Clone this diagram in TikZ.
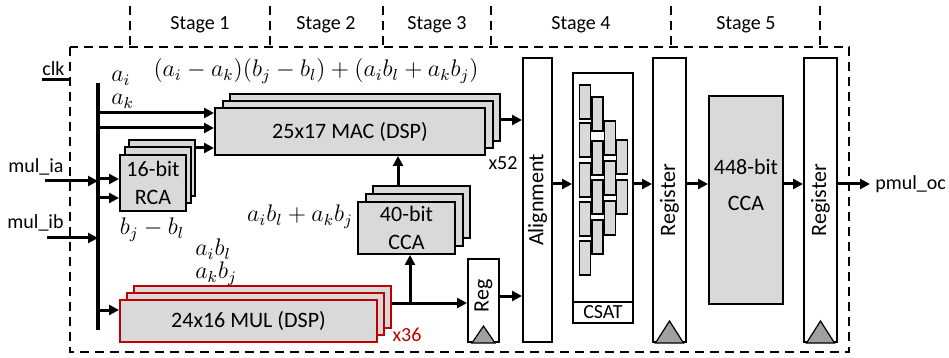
\documentclass[tikz,border=0pt]{standalone}
\usepackage{fontspec}
\setmainfont{Carlito}
\usetikzlibrary{arrows.meta}
\definecolor{boxgray}{RGB}{217,217,217}
\definecolor{trigray}{RGB}{160,160,160}
\definecolor{mulred}{RGB}{192,0,0}
\tikzset{
  blk/.style={draw,line width=1pt,fill=boxgray,inner sep=0pt,align=center,font=\fontsize{11}{13}\selectfont},
  regbox/.style={draw,line width=1pt,fill=white,inner sep=0pt},
  boxtxt/.style={inner sep=0pt,align=center,font=\fontsize{11}{13}\selectfont},
  wire/.style={line width=1.5pt,-{Triangle[length=5pt,width=5pt]}},
  bus/.style={line width=2pt},
  frame/.style={line width=1pt,dash pattern=on 4.5pt off 3pt},
  lbl/.style={inner sep=0pt,font=\fontsize{10}{12}\selectfont},
  mth/.style={inner sep=0pt,align=left,font=\fontsize{11.5}{11.5}\selectfont},
  cell/.style={draw,line width=0.8pt,fill=boxgray},
  clock/.style={draw,line width=0.6pt,fill=trigray}
}
\begin{document}
\begin{tikzpicture}[x=0.5pt,y=-0.5pt]
  \useasboundingbox (0,0) rectangle (949,358);
  % pipeline frame and stages
  \draw[frame] (70,47) rectangle (849,352);
  \foreach \x in {130,270,383,491,671,820}
    \draw[frame] (\x,6) -- (\x,47);
  \foreach \n/\x in {1/200,2/326,3/437,4/581,5/746}
    \node[lbl] (st\n) at (\x,25) {Stage \n};

  % stacked blocks
  \foreach \s in {2,1} {
    \node[blk,minimum width=135pt,minimum height=23.5pt] (mac\s) at (350+7.5*\s,131.5-7*\s) {};
    \node[blk,minimum width=33pt,minimum height=28pt] (rca\s) at (153+4.5*\s,183-7.5*\s) {};
    \node[blk,draw=mulred,minimum width=128.5pt,minimum height=21pt] (mul\s) at (248.5+7*\s,321-7*\s) {};
    \node[blk,minimum width=48.5pt,minimum height=26pt] (cca\s) at (406.5+7.5*\s,228-8*\s) {};
  }
  \node[blk,minimum width=135pt,minimum height=23.5pt] (mac) at (350,131.5) {25x17 MAC (DSP)};
  \node[blk,minimum width=33pt,minimum height=28pt] (rca) at (153,183) {16-bit\\[1pt]RCA};
  \node[blk,draw=mulred,minimum width=128.5pt,minimum height=21pt] (mul) at (248.5,321) {24x16 MUL (DSP)};
  \node[blk,minimum width=48.5pt,minimum height=26pt] (cca) at (406.5,228) {40-bit\\[1pt]CCA};

  % registers, alignment, tree, final adder
  \node[regbox,minimum width=15.5pt,minimum height=41.5pt] (reg) at (483.5,300.5) {};
  \node[regbox,minimum width=14.5pt,minimum height=142pt] (align) at (537.5,200) {};
  \node[regbox,minimum width=30pt,minimum height=125pt] (csat) at (603,198) {};
  \node[regbox,minimum width=16.5pt,minimum height=142pt] (rg1) at (669.5,200) {};
  \node[blk,minimum width=37pt,minimum height=104pt] (add) at (746,200) {};
  \node[regbox,minimum width=16.5pt,minimum height=142pt] (rg2) at (820.5,200) {};
  \node[boxtxt,rotate=90] (regt) at (483.5,296) {Reg};
  \node[boxtxt,rotate=90] (alignt) at (align) {Alignment};
  \node[boxtxt,rotate=90] (rg1t) at (rg1) {Register};
  \node[boxtxt,rotate=90] (rg2t) at (rg2) {Register};
  \node[boxtxt] (addt) at (746,184.5) {448-bit\\[5pt]CCA};
  \foreach \r/\w/\h in {reg/5.75/8.5,rg1/7/11,rg2/7/11}
    \draw[clock] ([xshift=-\w pt]\r.south) -- ([yshift=\h pt]\r.south) -- ([xshift=\w pt]\r.south) -- cycle;

  % carry-save adder tree
  \draw[line width=1pt] (csat.west |- 0,302) -- (csat.east |- 0,302);
  \node[lbl] (csatt) at (603,312.5) {CSAT};
  \foreach \cx/\tops in {585/{85,123,163,202,241},597.5/{97,141,180,220},610/{121,161,201},622/{140,180}}
    \foreach \t in \tops
      \draw[cell] (\cx-5.5,\t) rectangle (\cx+5.5,\t+34);

  % inputs and bus
  \coordinate (bt) at (98,83); \coordinate (bb) at (98,330);
  \coordinate (ia) at (45,181); \coordinate (ib) at (47,238);
  \coordinate (ck) at (70,80);
  \node[lbl,anchor=base west] (clk) at (42,76) {clk};
  \draw[line width=1.5pt] (clk.base west |- ck) -- (ck);
  \node[lbl,anchor=east] (ialbl) at (64,167) {mul\_ia};
  \node[lbl,anchor=east] (iblbl) at (64,223) {mul\_ib};
  \draw[bus] (bt) -- (bb);
  \draw[wire] (ia) -- (bt |- ia);
  \draw[wire] (ib) -- (bt |- ib);
  \foreach \y in {113,128}
    \draw[wire] (bt |- 0,\y) -- (mac.west |- 0,\y);
  \foreach \y in {179,198}
    \draw[wire] (bt |- 0,\y) -- (rca.west |- 0,\y);
  \draw[wire] (bt |- 0,310) -- (mul.west |- 0,310);
  \draw[wire] (rca2.east |- 0,148) -- (mac.west |- 0,148);

  % datapath
  \coordinate (br) at (410,303);
  \draw[wire] (mul2.east |- br) -- (reg.west |- br);
  \draw[wire] (br) -- (br |- cca.south);
  \draw[wire] (cca2.north -| 398,0) -- (mac.south -| 398,0);
  \draw[wire] (mac2.east |- 0,120) -- (align.west |- 0,120);
  \draw[wire] (reg.east |- 0,296) -- (align.west |- 0,296);
  \foreach \a/\b in {align/csat,csat/rg1,rg1/add,add/rg2}
    \draw[wire] (\a.east |- 0,184) -- (\b.west |- 0,184);
  \coordinate (out) at (870,184);
  \draw[wire] (rg2.east |- out) -- (out);
  \node[lbl,anchor=west] (oc) at (875,184) {pmul\_oc};

  % operand labels
  \node[mth,anchor=west] (aik) at (111,90) {$a_i$\\$a_k$};
  \node[mth] (expr) at (316,71) {$(a_i-a_k)\big(b_j-b_l\big)+(a_ib_l+a_kb_j)$};
  \node[mth] (bd) at (152,230) {$b_j-b_l$};
  \node[mth,anchor=west] (prod) at (195,262) {$a_ib_l$\\$a_kb_j$};
  \node[mth] (ps) at (300,217) {$a_ib_l+a_kb_j$};
  \node[lbl] (n52) at (503,163) {x52};
  \node[lbl,text=mulred] (n36) at (407,335) {x36};
\end{tikzpicture}
\end{document}
